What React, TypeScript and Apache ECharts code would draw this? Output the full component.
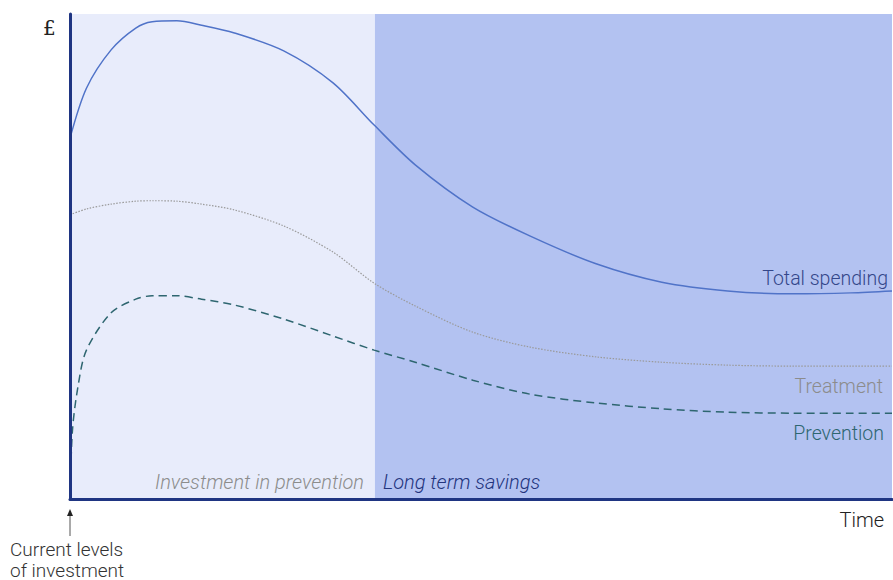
import React, { useEffect, useRef } from "react";
import * as echarts from "echarts";

// x positions (time, 0..100) and values (spending, 0..100)
const timeX = [0, 2, 5, 8, 10, 13, 16, 20, 26, 32, 37, 42, 49, 56, 64, 72, 80, 88, 95, 100];
const totalY = [74.4, 84.7, 92.6, 97.1, 98.4, 98.6, 97.7, 96.1, 92.4, 85.8, 77.1, 68.9, 60.2, 54.2, 48.5, 44.7, 42.9, 42.3, 42.5, 42.9];
const treatY = [58.6, 59.8, 60.8, 61.4, 61.5, 61.4, 60.8, 59.6, 56.3, 50.9, 44.5, 39.8, 34.4, 31.3, 29.3, 28.2, 27.6, 27.4, 27.4, 27.4];

const prevX = [0, 0.3, 1, 2, 5, 8, 10, 13, 16, 20, 26, 32, 37, 42, 49, 56, 64, 72, 80, 88, 95, 100];
const prevY = [0, 14.2, 23.5, 30.7, 38.4, 41.2, 41.9, 41.9, 41.2, 40.0, 37.1, 33.6, 30.7, 28.2, 24.5, 21.6, 19.8, 18.6, 17.9, 17.7, 17.7, 17.7];

const phaseBreak = 37.1;
const phaseLabels = ["Investment in prevention", "Long term savings"];
const seriesLabels = ["Total spending", "Treatment", "Prevention"];

const zip = (xs: number[], ys: number[]) => xs.map((x, i) => [x, ys[i]]);

export default function App() {
  const ref = useRef<HTMLDivElement>(null);
  useEffect(() => {
    if (!ref.current) return;
    const chart = echarts.init(ref.current, null, { renderer: "svg" });
    const font = "Roboto, 'Noto Sans', sans-serif";
    const axisCommon = {
      type: "value",
      min: 0,
      max: 100,
      z: 20,
      axisLine: { show: true, onZero: false, lineStyle: { color: "#1f3582", width: 3 } },
      axisTick: { show: false },
      axisLabel: { show: false },
      splitLine: { show: false },
    };
    chart.setOption({
      animation: false,
      grid: { left: 70, right: 1, top: 14, bottom: 81 },
      xAxis: axisCommon,
      yAxis: axisCommon,
      series: [
        {
          name: seriesLabels[0],
          type: "line",
          data: zip(timeX, totalY),
          smooth: 0.3,
          symbol: "none",
          lineStyle: { color: "#5073c8", width: 1.5 },
          z: 5,
          markArea: {
            silent: true,
            z: 1,
            data: [
              [{ xAxis: 0, itemStyle: { color: "#e8ecfb" } }, { xAxis: phaseBreak }],
              [{ xAxis: phaseBreak, itemStyle: { color: "#b3c2f1" } }, { xAxis: 100 }],
            ],
          },
        },
        {
          name: seriesLabels[1],
          type: "line",
          data: zip(timeX, treatY),
          smooth: 0.3,
          symbol: "none",
          lineStyle: { color: "#9a9a9a", width: 1.2, type: [1.5, 1.5] },
          z: 4,
        },
        {
          name: seriesLabels[2],
          type: "line",
          data: zip(prevX, prevY),
          smooth: 0.3,
          symbol: "none",
          lineStyle: { color: "#2e6670", width: 1.5, type: [8, 5] },
          z: 4,
        },
      ],
      graphic: {
        elements: [
          { type: "text", z: 100, x: 43, y: 18, style: { text: "£", font: "20px 'DejaVu Serif', serif", fill: "#222" } },
          { type: "text", z: 100, x: 888, y: 278, style: { text: seriesLabels[0], font: `300 19.5px ${font}`, fill: "#34478a", align: "right", verticalAlign: "middle" } },
          { type: "text", z: 100, x: 883, y: 386, style: { text: seriesLabels[1], font: `300 19.5px ${font}`, fill: "#8c8c8c", align: "right", verticalAlign: "middle" } },
          { type: "text", z: 100, x: 884, y: 433, style: { text: seriesLabels[2], font: `300 19.5px ${font}`, fill: "#2e6670", align: "right", verticalAlign: "middle" } },
          { type: "text", z: 100, x: 155, y: 482, style: { text: phaseLabels[0], font: `italic 300 20px ${font}`, fill: "#8c8c8c", verticalAlign: "middle" } },
          { type: "text", z: 100, x: 383, y: 482, style: { text: phaseLabels[1], font: `italic 300 20px ${font}`, fill: "#23357e", verticalAlign: "middle" } },
          { type: "text", z: 100, x: 884, y: 520, style: { text: "Time", font: `300 20px ${font}`, fill: "#222", align: "right", verticalAlign: "middle" } },
          { type: "text", z: 100, x: 10, y: 549, style: { text: "Current levels", font: `300 19px ${font}`, fill: "#333", verticalAlign: "middle" } },
          { type: "text", z: 100, x: 10, y: 570, style: { text: "of investment", font: `300 19px ${font}`, fill: "#333", verticalAlign: "middle" } },
          { type: "line", z: 100, shape: { x1: 70, y1: 536, x2: 70, y2: 514 }, style: { stroke: "#555", lineWidth: 1 } },
          { type: "polygon", z: 100, shape: { points: [[70, 509], [67, 516], [73, 516]] }, style: { fill: "#222" } },
        ],
      },
    });
    return () => chart.dispose();
  }, []);
  return <div ref={ref} style={{ position: "absolute", left: 0, top: 0, width: 893, height: 580 }} />;
}
